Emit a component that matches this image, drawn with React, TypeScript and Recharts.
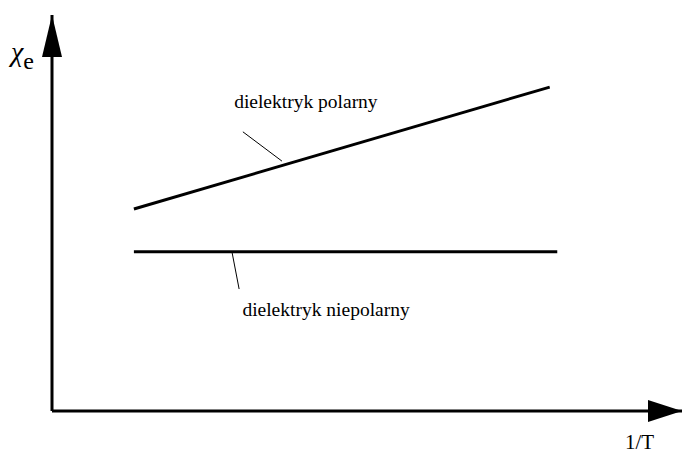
import { ComposedChart, Line, XAxis, YAxis, ReferenceLine, ReferenceDot } from 'recharts';

// 1/T in arbitrary units, chi_e in arbitrary units
const polarLine = [
  { x: 13.0, y: 51.0 },
  { x: 79.0, y: 81.8 },
];
const nonpolarLine = [
  { x: 13.0, y: 40.2 },
  { x: 80.2, y: 40.2 },
];
const polarLeader = [
  { x: 30.3, y: 70.5 },
  { x: 36.5, y: 63.1 },
];
const nonpolarLeader = [
  { x: 28.6, y: 39.9 },
  { x: 29.7, y: 30.8 },
];
const curveLabels = [
  { x: 40.3, y: 78.3, text: 'dielektryk polarny' },
  { x: 43.5, y: 25.8, text: 'dielektryk niepolarny' },
];
const xDomain = [0, 100];
const yDomain = [0, 100];

const serif = '"Liberation Serif", "DejaVu Serif", serif';

const ArrowRight = (p: any) => (
  <path d={`M${p.cx},${p.cy} L${p.cx - 34},${p.cy - 11} L${p.cx - 34},${p.cy + 11} Z`} fill="#000" />
);
const ArrowUp = (p: any) => (
  <path d={`M${p.cx},${p.cy} L${p.cx - 10},${p.cy + 42} L${p.cx + 10},${p.cy + 42} Z`} fill="#000" />
);

export default function App() {
  return (
    <div style={{ position: 'absolute', left: 0, top: 0, background: '#fff' }}>
      <ComposedChart width={683} height={455} margin={{ top: 15, right: 1, bottom: 43, left: 51 }}>
        <XAxis
          type="number"
          dataKey="x"
          domain={xDomain}
          allowDataOverflow
          height={1}
          tick={false}
          tickLine={false}
          axisLine={{ stroke: '#000', strokeWidth: 3 }}
          label={(props: any) => {
            const vb = props.viewBox;
            return (
              <text x={vb.x + vb.width - 57} y={449} fontFamily={serif} fontSize={21} fill="#000">
                1/T
              </text>
            );
          }}
        />
        <YAxis
          type="number"
          dataKey="y"
          domain={yDomain}
          allowDataOverflow
          width={1}
          tick={false}
          tickLine={false}
          axisLine={{ stroke: '#000', strokeWidth: 3 }}
          label={() => (
            <text x={11} y={61} fontFamily={serif} fontSize={28} fill="#000">
              <tspan fontStyle="italic">χ</tspan>
              <tspan fontFamily={serif} fontSize={24} dy={8}>e</tspan>
            </text>
          )}
        />
        <Line data={polarLine} dataKey="y" type="linear" stroke="#000" strokeWidth={3} dot={false} isAnimationActive={false} />
        <Line data={nonpolarLine} dataKey="y" type="linear" stroke="#000" strokeWidth={3} dot={false} isAnimationActive={false} />
        <ReferenceLine
          segment={polarLeader}
          stroke="#000"
          strokeWidth={1}
          ifOverflow="visible"
        />
        <ReferenceLine
          segment={nonpolarLeader}
          stroke="#000"
          strokeWidth={1}
          ifOverflow="visible"
        />
        {curveLabels.map((l) => (
          <ReferenceDot
            key={l.text}
            x={l.x}
            y={l.y}
            r={0}
            ifOverflow="visible"
            label={{ value: l.text, position: 'center', fill: '#000', fontSize: 19.5, fontFamily: serif }}
          />
        ))}
        <ReferenceDot x={xDomain[1]} y={yDomain[0]} ifOverflow="visible" shape={ArrowRight} />
        <ReferenceDot x={xDomain[0]} y={yDomain[1]} ifOverflow="visible" shape={ArrowUp} />
      </ComposedChart>
    </div>
  );
}
